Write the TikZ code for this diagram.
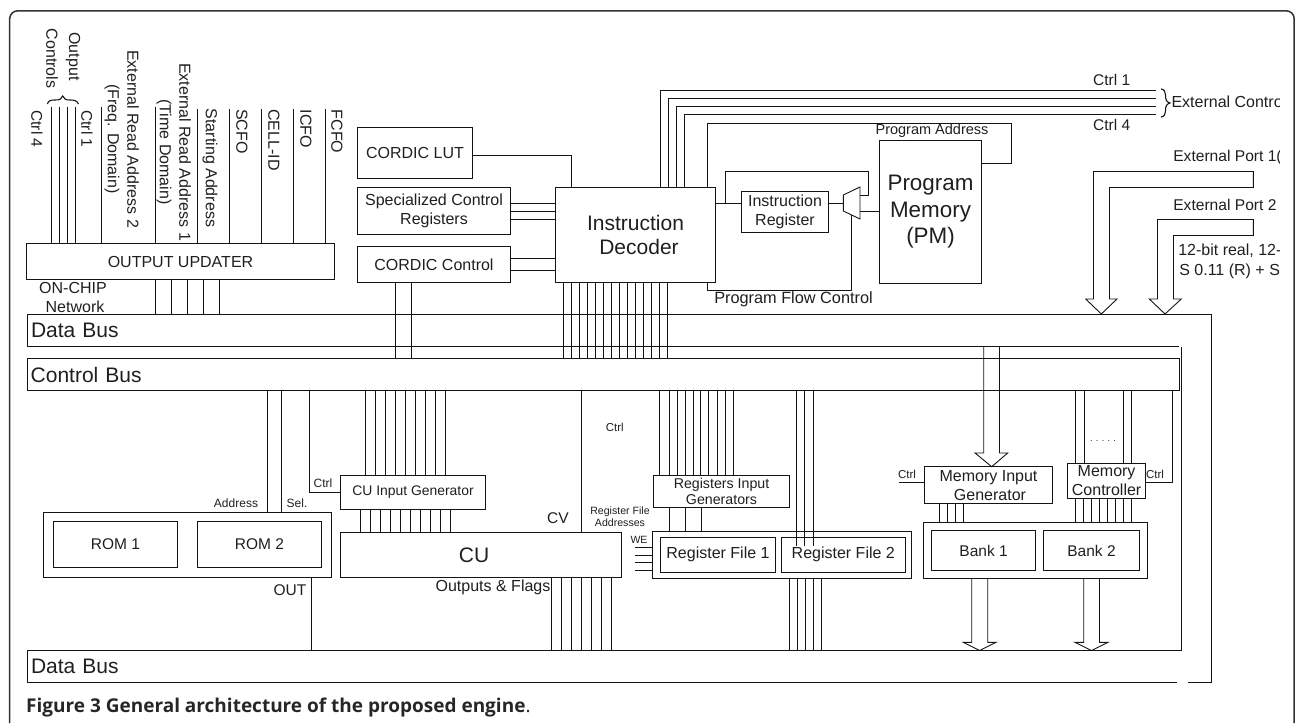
\documentclass[tikz,border=0pt]{standalone}
\usepackage{fontspec}
\setmainfont{Liberation Sans}
\newfontfamily\capfont{Open Sans}
\newcommand\fsz[1]{\fontsize{#1}{\the\dimexpr#1pt*118/100\relax}\selectfont}
\tikzset{
  wire/.style={line width=0.9pt,draw=black!92},
  lbl/.style={inner sep=0pt,outer sep=0pt,text=black!88,align=center,font=\fsz{#1}},
  lbl/.default=16,
  vlbl/.style={lbl=#1,rotate=-90},
  vlbl/.default=16,
  boxed/.style={draw=black!92,line width=0.9pt,inner sep=0pt,outer sep=0pt,text=black!88,align=center,font=\fsz{#1}},
  boxed/.default=16,
  frame/.style={draw=black!80,line width=1.5pt,rounded corners=8pt},
  busbox/.style={inner sep=0pt,outer sep=0pt,text=black!88,align=left,font=\fsz{21}}
}
\newcommand\bx[6][16]{%
  \pgfmathsetmacro\bxw{#5-#3}\pgfmathsetmacro\bxh{#6-#4}%
  \pgfmathsetmacro\bxx{(#3+#5)/2}\pgfmathsetmacro\bxy{(#4+#6)/2}%
  \node[boxed=#1,minimum width=\bxw pt,minimum height=\bxh pt] (#2) at (\bxx,\bxy)}
\begin{document}
\begin{tikzpicture}[x=1pt,y=-1pt]
\useasboundingbox (0,0) rectangle (1295,725);
% outer frame
\draw[frame] (9.7,723) -- (9.7,10.8) -- (1294.2,10.8) -- (1294.2,723);

% buses
\node[busbox,text width=1145pt,minimum height=32pt] (dbusT) at (603.5,330) {Data Bus};
\draw[wire] (1179,346.5) -- (27,346.5) -- (27,314.5) -- (1211.5,314.5) -- (1211.5,682.5) -- (1188,682.5);
\draw[wire] (1177,682.5) -- (27,682.5) -- (27,650.5) -- (1181.5,650.5) -- (1181.5,347);
\node[busbox,text width=1145pt,minimum height=32pt] (dbusB) at (603.5,666.5) {Data Bus};
\node[boxed=21,minimum width=1152.5pt,minimum height=32pt,text width=1145pt,align=left] (cbus) at (603.2,374.5) {Control Bus};

% output updater
\bx{upd}{26.5}{243.5}{334.5}{279.5} {OUTPUT UPDATER};
\foreach \x in {51.5,59.5,67.5,75.5,101.5,155.5} \draw[wire] (\x,106.5) -- (\x,0 |- upd.north);
\foreach \x in {197.5,229.5,261.5,293.5,325.5} \draw[wire] (\x,109) -- (\x,0 |- upd.north);
\foreach \x in {155.5,171.5,187.5,203.5,219.5} \draw[wire] (\x,0 |- upd.south) -- (\x,0 |- dbusT.north);
\draw[wire,line width=1.1pt] (47.5,104) .. controls (48,100.5) and (51,100) .. (55,100) .. controls (60,100) and (61.5,99) .. (62.7,96) .. controls (64,99) and (65.5,100) .. (70,100) .. controls (74,100) and (77,100.5) .. (78.5,104);
\node[vlbl=15.5] (c4a) at (37,129) {Ctrl 4};
\node[vlbl=15.5] (c1a) at (87,129) {Ctrl 1};
\node[vlbl] (ctlout) at (73,56.5) {Output};
\node[vlbl] (ctlctl) at (52,58.5) {Controls};
\node[vlbl] (era2) at (133,139) {External Read Address 2};
\node[vlbl] (freq) at (112,139) {(Freq. Domain)};
\node[vlbl] (era1) at (185,152) {External Read Address 1};
\node[vlbl] (time) at (164,152) {(Time Domain)};
\node[vlbl] (start) at (210,168) {Starting Address};
\node[vlbl] (scfo) at (242,131.5) {SCFO};
\node[vlbl] (cell) at (274,140) {CELL-ID};
\node[vlbl] (icfo) at (306,129) {ICFO};
\node[vlbl] (fcfo) at (337,131.5) {FCFO};
\node[lbl] (onchip) at (73,288) {ON-CHIP};
\node[lbl] (network) at (75,307) {Network};

% left control blocks
\bx{lut}{357.5}{127.5}{472.5}{178.5} {CORDIC LUT};
\bx{spec}{357.5}{187.5}{510.5}{234.5} {Specialized Control\\Registers};
\bx{cctl}{357.5}{246.5}{510.5}{282.5} {CORDIC Control};
\bx[21]{dec}{555.5}{187.5}{715.5}{282.5} {Instruction\\\hspace*{7pt}Decoder};
\draw[wire] (lut.east |- 0,155.5) -| (571.5,0 |- dec.north);
\foreach \y in {203.5,211.5,219.5} \draw[wire] (spec.east |- 0,\y) -- (dec.west |- 0,\y);
\foreach \y in {258.5,270.5} \draw[wire] (cctl.east |- 0,\y) -- (dec.west |- 0,\y);
\foreach \x in {395.5,411.5} \draw[wire] (\x,0 |- cctl.south) -- (\x,0 |- cbus.north);
\foreach \x in {563.5,571.5,...,667.5} \draw[wire] (\x,0 |- dec.south) -- (\x,0 |- cbus.north);

% external control
\coordinate (ext1) at (1156,90.5);
\coordinate (ext2) at (1156,98.5);
\coordinate (ext3) at (1156,106.5);
\coordinate (ext4) at (1156,114.5);
\draw[wire] (660,0 |- dec.north) |- (ext1);
\draw[wire] (668,0 |- dec.north) |- (ext2);
\draw[wire] (676,0 |- dec.north) |- (ext3);
\draw[wire] (684,0 |- dec.north) |- (ext4);
\draw[wire,line width=1.1pt] (1161,89) .. controls (1164.5,89.5) and (1165.5,92) .. (1165.5,95) .. controls (1165.5,100) and (1166.5,102) .. (1170,103) .. controls (1166.5,104) and (1165.5,106) .. (1165.5,111) .. controls (1165.5,114) and (1164.5,116.5) .. (1161,117);
\node[lbl=15.5] (c1b) at (1111.7,80) {Ctrl 1};
\node[lbl=15.5] (c4b) at (1111.7,124.5) {Ctrl 4};

% program memory, instruction register, mux
\bx[22.4]{pm}{879.5}{140.5}{981.5}{283} {Program\\Memory\\(PM)};
\bx{ir}{741.7}{191}{828.3}{232} {Instruction\\Register};
\draw[wire] (707.5,0 |- dec.north) |- (1011.5,123.5) |- (pm.east |- 0,163.5);
\node[lbl=14.5] (pa) at (932,131) {Program Address};
\coordinate (muxin) at (843.3,203.5);
\coordinate (muxa) at (860,195.5);
\coordinate (muxb) at (860,211.3);
\coordinate (muxc) at (851.5,215);
\draw[wire] (843.3,195) -- (860,187) -- (860,219) -- (843.3,211) -- cycle;
\draw[wire] (dec.east |- 0,203.5) -- (ir.west |- 0,203.5);
\draw[wire] (ir.east |- 0,203.5) -- (muxin);
\draw[wire] (725.5,203.5) |- (868.3,171.5) |- (muxa);
\draw[wire] (muxb) -- (pm.west |- muxb);
\draw[wire] (707.5,0 |- dec.south) |- (851.5,290.5) -- (muxc);
\node[lbl=16.3] (pfc) at (793.5,299) {Program Flow Control};

% external ports
\draw[wire] (1253.3,171.5) -- (1093.5,171.5) -- (1093.5,299) -- (1085.7,299) -- (1101.3,0 |- dbusT.north) -- (1117,299) -- (1109.5,299) -- (1109.5,187.5) -- (1253.3,187.5) -- cycle;
\draw[wire] (1253.3,219.5) -- (1157.5,219.5) -- (1157.5,299) -- (1149.3,299) -- (1165,0 |- dbusT.north) -- (1181.3,299) -- (1173.5,299) -- (1173.5,235.5) -- (1253.3,235.5) -- cycle;
\begin{scope}
\clip (1150,60) rectangle (1279.5,285);
\node[lbl,anchor=west] (extc) at (1171.5,102) {External Contro};
\node[lbl=15.6,anchor=west] (port1) at (1173.3,157.5) {External Port 1(};
\node[lbl=15.6,anchor=west] (port2) at (1173.3,204.5) {External Port 2};
\node[lbl,anchor=west] (bits1) at (1178.3,251) {12-bit real, 12-};
\node[lbl,anchor=west] (bits2) at (1179.3,271) {S 0.11 (R) + S};
\end{scope}

% ROMs
\bx{romo}{43.5}{512.5}{331.5}{577.5} {};
\bx[15.5]{rom1}{53.5}{521.5}{177.5}{567.5} {ROM 1};
\bx[15.5]{rom2}{197.5}{521.5}{321.5}{567.5} {ROM 2};
\foreach \x in {267.5,281.5} \draw[wire] (\x,0 |- cbus.south) -- (\x,0 |- romo.north);
\node[lbl=12] (addr) at (236,503) {Address};
\node[lbl=12] (sel) at (297,503) {Sel.};
\draw[wire] (311,0 |- romo.south) -- (311,0 |- dbusB.north);
\node[lbl=15.5] (out) at (290,590) {OUT};

% CU
\bx[13.9]{cuin}{340.5}{475}{485.5}{509} {CU Input Generator};
\bx[21]{cu}{340.5}{532.5}{621.5}{577.5} {\hspace*{-14pt}CU};
\draw[wire] (309.5,0 |- cbus.south) |- (cuin.west |- 0,492);
\node[lbl=12] (cc1) at (323,483) {Ctrl};
\foreach \x in {365.5,375.5,...,445.5} \draw[wire] (\x,0 |- cbus.south) -- (\x,0 |- cuin.north);
\foreach \x in {360.5,370.5,...,450.5} \draw[wire] (\x,0 |- cuin.south) -- (\x,0 |- cu.north);
\draw[wire] (581.5,0 |- cbus.south) -- (581.5,0 |- cu.north);
\node[lbl=11.5] (cc2) at (614.7,427) {Ctrl};
\node[lbl=15.5] (cv) at (558,518) {CV};
\node[lbl] (oaf) at (493,587) {Outputs \& Flags};
\foreach \x in {551.5,561.5,...,611.5} \draw[wire] (\x,0 |- cu.south) -- (\x,0 |- dbusB.north);

% registers
\bx[14.2]{rig}{653.5}{475.5}{789.5}{507.5} {Registers Input\\Generators};
\bx{rego}{652.7}{531.7}{911.7}{578.7} {};
\bx{rf1}{660.7}{537.3}{775.3}{572.3} {Register File 1};
\bx{rf2}{781.3}{537.3}{905.3}{572.3} {Register File 2};
\foreach \x in {659.5,669,677,685,693,700.7,708.7,717,725,733} \draw[wire] (\x,0 |- cbus.south) -- (\x,0 |- rig.north);
\foreach \x in {669.5,685.5,701} \draw[wire] (\x,0 |- rig.south) -- (\x,0 |- rego.north);
\foreach \x in {796.7,804.7,813} \draw[wire] (\x,0 |- cbus.south) -- (\x,546);
\foreach \x in {789,797,805,813,821} \draw[wire] (\x,0 |- rego.south) -- (\x,0 |- dbusB.north);
\node[lbl=10.6] (rfa) at (620,516.5) {Register File\\Addresses};
\node[lbl=10.5] (we) at (639,540) {WE};
\foreach \y in {547.5,555.5,562.5,570.5} \draw[wire] (635,\y) -- (rego.west |- 0,\y);

% memory
\bx{mig}{924.5}{466.7}{1052.5}{503.7} {Memory Input\\\hspace*{3pt}Generator};
\bx{mctl}{1067.5}{463.3}{1145.7}{498.3} {Memory\\Controller};
\bx{banko}{923.5}{522.7}{1147.5}{578.7} {};
\bx[15.5]{bank1}{931.5}{530.3}{1035.7}{570.7} {Bank 1};
\bx[15.5]{bank2}{1043.5}{530.3}{1139.5}{570.7} {Bank 2};
\draw[wire] (983.7,0 |- dbusT.south) -- (983.7,453) -- (975,453) -- (991.7,0 |- mig.north) -- (1007.7,453) -- (999.5,453) -- (999.5,0 |- dbusT.south);
\coordinate (mcl) at (899,482.5);
\draw[wire] (mcl) -- (mig.west |- mcl);
\node[lbl=11.5] (cc3) at (907,474) {Ctrl};
\foreach \x in {939.7,947.7,955.5,963.5} \draw[wire] (\x,0 |- mig.south) -- (\x,0 |- banko.north);
\foreach \x in {1075.7,1084,1123.5,1131.7} \draw[wire] (\x,0 |- cbus.south) -- (\x,0 |- mctl.north);
\foreach \x in {1075.7,1083.7,...,1131.7} \draw[wire] (\x,0 |- mctl.south) -- (\x,0 |- banko.north);
\node[lbl=9] (dots) at (1103,441) {. . . . .};
\draw[wire] (mctl.east |- 0,482.5) -| (1172,0 |- cbus.south);
\node[lbl=11.5] (cc4) at (1155,474) {Ctrl};
\draw[wire] (971.7,0 |- banko.south) -- (971.7,642.3) -- (963.3,642.3) -- (979.5,0 |- dbusB.north) -- (996,642.3) -- (987.7,642.3) -- (987.7,0 |- banko.south);
\draw[wire] (1083.7,0 |- banko.south) -- (1083.7,642.3) -- (1075,642.3) -- (1091.5,0 |- dbusB.north) -- (1108,642.3) -- (1099.5,642.3) -- (1099.5,0 |- banko.south);

% caption
\node[inner sep=0pt,anchor=west,text=black!85,font=\capfont\fontsize{19}{22}\selectfont] (caption) at (26,708) {\textbf{Figure 3 General architecture of the proposed engine}.};
\end{tikzpicture}
\end{document}
